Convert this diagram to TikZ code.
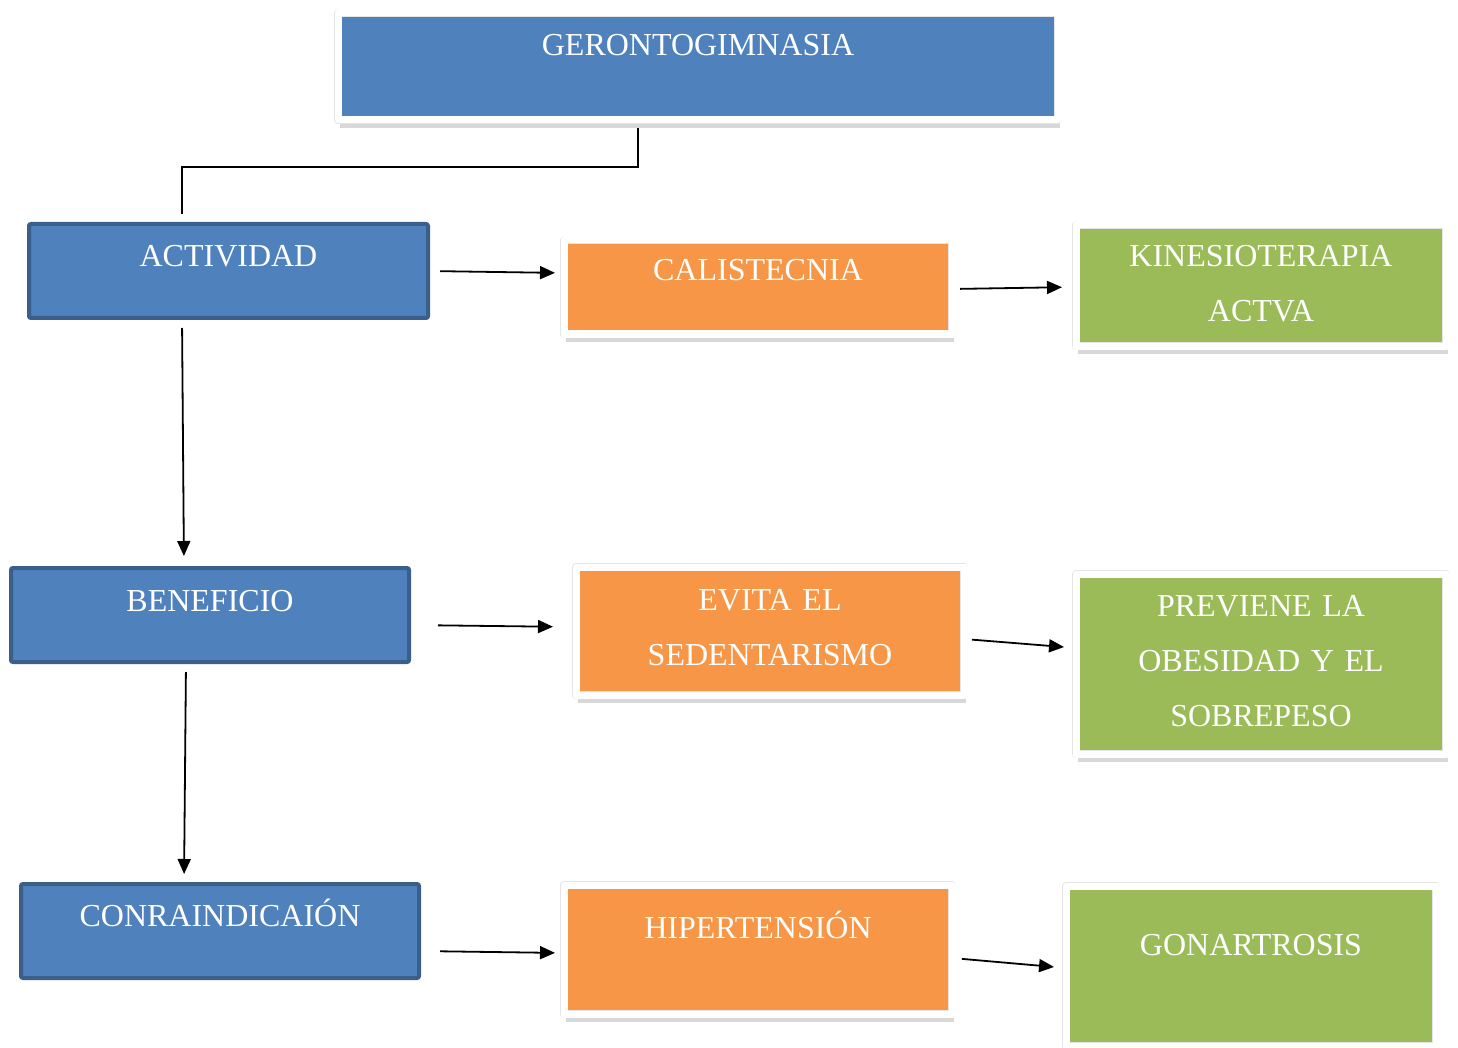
\documentclass[tikz,border=0pt]{standalone}
\usepackage{fontspec}
\setmainfont{Liberation Serif}
\usetikzlibrary{arrows.meta,shadows}

\definecolor{boxblue}{HTML}{4F81BD}
\definecolor{boxedge}{HTML}{3A5F8B}
\definecolor{boxorange}{HTML}{F79646}
\definecolor{boxgreen}{HTML}{9BBB59}

\begin{document}
\begin{tikzpicture}[%
      x=1pt, y=-1pt,
      every node/.style={inner sep=0pt, outer sep=0pt, anchor=north west, align=center,
        text=white, font=\fontsize{32}{55}\selectfont},
      framed/.style={fill=#1, draw=black!10, double=white, double distance=7pt,
        line width=0.5pt, line join=round,
        drop shadow={shadow xshift=1.5pt, shadow yshift=-8pt, opacity=0.22, fill=black!70}},
      edged/.style={fill=boxblue, draw=boxedge, line width=4pt, rounded corners=2pt},
      link/.style={line width=1.8pt},
      arr/.style={link, -{Triangle[length=15pt,width=13pt]}},
      ]
      \useasboundingbox (0,0) rectangle (1458,1048);

      % top
      \node[framed=boxblue, text width=720pt, text height=43pt, text depth=64pt] (geronto) at (338,13) {GERONTOGIMNASIA};

      % left column
      \node[edged, text width=399pt, text height=43pt, text depth=51pt] (actividad) at (29,224) {ACTIVIDAD};
      \node[edged, text width=398pt, text height=43pt, text depth=51pt] (beneficio) at (11,568) {BENEFICIO};
      \node[edged, text width=398pt, text height=42pt, text depth=52pt] (contra) at (21,884) {CONRAINDICAIÓN};

      % middle column
      \node[framed=boxorange, text width=388pt, text height=41pt, text depth=53pt] (calistecnia) at (564,240) {CALISTECNIA};
      \node[framed=boxorange, text width=388pt, text height=43pt, text depth=85pt] (evita) at (576,567) {EVITA EL\\SEDENTARISMO};
      \node[framed=boxorange, text width=388pt, text height=53pt, text depth=76pt] (hiper) at (564,885) {HIPERTENSIÓN};

      % right column
      \node[framed=boxgreen, text width=370pt, text height=42pt, text depth=79pt] (kinesio) at (1076,225) {KINESIOTERAPIA\\ACTVA};
      \node[framed=boxgreen, text width=370pt, text height=42pt, text depth=138pt] (previene) at (1076,574) {PREVIENE LA\\OBESIDAD Y EL\\SOBREPESO};
      \node[framed=boxgreen, text width=370pt, text height=69pt, text depth=91pt] (gonar) at (1066,886) {GONARTROSIS};

      % connectors
      \draw[link, shorten <=8pt, shorten >=10pt] ([xshift=-60pt]geronto.south) -- ++(0,47) -| ([xshift=-46.5pt]actividad.north);
      \draw[arr, shorten <=10pt, shorten >=12pt] ([xshift=-46.5pt]actividad.south) -- ([xshift=-26pt]beneficio.north);
      \draw[arr, shorten <=10pt, shorten >=10pt] ([xshift=-24pt]beneficio.south) -- ([xshift=-36pt]contra.north);

      \draw[arr, shorten <=12pt, shorten >=9pt] (actividad.east) -- ([yshift=14pt]calistecnia.west);
      \draw[arr, shorten <=8pt, shorten >=14pt] ([yshift=-2pt]calistecnia.east) -- ([yshift=-1.5pt]kinesio.west);
      \draw[arr, shorten <=29pt, shorten >=23pt] ([yshift=-10pt]beneficio.east) -- ([yshift=4pt]evita.west);
      \draw[arr, shorten <=8pt, shorten >=12pt] ([yshift=-8pt]evita.east) -- ([yshift=16pt]previene.west);
      \draw[arr, shorten <=21pt, shorten >=9pt] ([yshift=-20pt]contra.east) -- ([yshift=-3.5pt]hiper.west);
      \draw[arr, shorten <=10pt, shorten >=12pt] ([yshift=-8.5pt]hiper.east) -- ([yshift=-2pt]gonar.west);
\end{tikzpicture}
\end{document}
